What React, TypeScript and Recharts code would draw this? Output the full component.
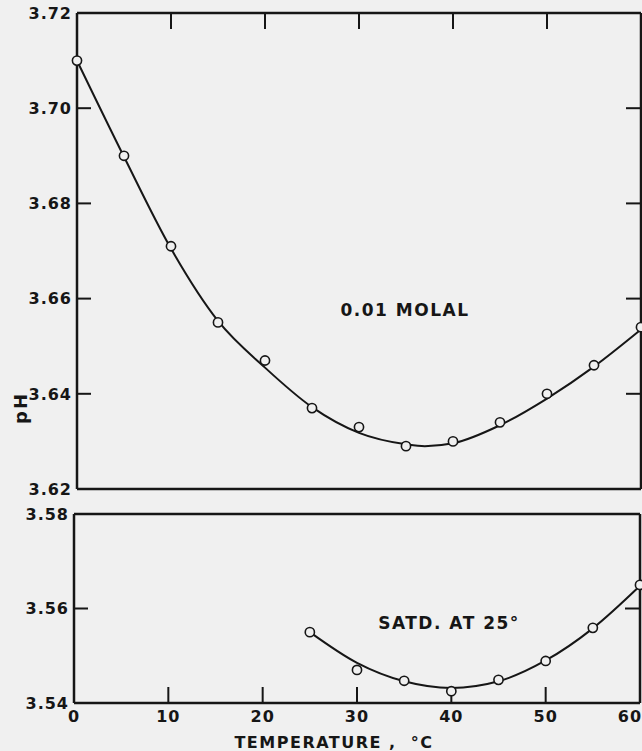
import React from "react";
import {
  ComposedChart,
  Line,
  Scatter,
  XAxis,
  YAxis,
} from "recharts";

// temperatures, deg C
const tempsDilute = [0, 5, 10, 15, 20, 25, 30, 35, 40, 45, 50, 55, 60];
const phDilute = [3.71, 3.69, 3.671, 3.655, 3.647, 3.637, 3.633, 3.629, 3.63, 3.634, 3.64, 3.646, 3.654];
// smooth curve drawn through the points
const curveTempsDilute = [0, 5, 10, 15, 20, 25, 30, 35, 37, 40, 45, 50, 55, 60];
const curvePhDilute = [3.71, 3.6898, 3.6705, 3.6553, 3.6455, 3.6372, 3.6318, 3.6294, 3.629, 3.6296, 3.6334, 3.639, 3.6457, 3.6535];

const tempsSatd = [25, 30, 35, 40, 45, 50, 55, 60];
const phSatd = [3.555, 3.547, 3.5447, 3.5425, 3.5449, 3.5489, 3.5559, 3.565];
const curveTempsSatd = [25, 30, 35, 40, 45, 50, 55, 60];
const curvePhSatd = [3.555, 3.5485, 3.5446, 3.5432, 3.5446, 3.549, 3.5558, 3.5648];

const tempTicks = [0, 10, 20, 30, 40, 50, 60];
const innerTempTicks = [10, 20, 30, 40, 50];
const phTicksTop = [3.62, 3.64, 3.66, 3.68, 3.7, 3.72];
const phTicksBottom = [3.54, 3.56, 3.58];
const innerPhTop = [3.64, 3.66, 3.68, 3.7];
const innerPhBottom = [3.56];

const ink = "#161616";
const paper = "#f0f0f0";
const font = "'DejaVu Sans', sans-serif";

const zip = (xs: number[], ys: number[]) => xs.map((t, i) => ({ t, ph: ys[i] }));

const dilutePts = zip(tempsDilute, phDilute);
const diluteCurve = zip(curveTempsDilute, curvePhDilute);
const satdPts = zip(tempsSatd, phSatd);
const satdCurve = zip(curveTempsSatd, curvePhSatd);

const labelFont = { fontFamily: font, fontWeight: 700, fontSize: 16, fill: ink, letterSpacing: 1 };
const axisStroke = { stroke: ink, strokeWidth: 2.5 };

const Ring = (p: any) => (
  <circle cx={p.cx} cy={p.cy} r={4.6} fill={paper} stroke={ink} strokeWidth={1.6} />
);

// inward tick marks, placed on the frame through the chart's scales
const TickDown = (p: any) => (
  <line x1={p.cx} x2={p.cx} y1={p.cy} y2={p.cy + 16} stroke={ink} strokeWidth={2} />
);
const TickUp = (p: any) => (
  <line x1={p.cx} x2={p.cx} y1={p.cy - 16} y2={p.cy} stroke={ink} strokeWidth={2} />
);
const TickIn = (p: any) => (
  <line x1={p.cx} x2={p.cx + 14} y1={p.cy} y2={p.cy} stroke={ink} strokeWidth={2} />
);
const TickOut = (p: any) => (
  <line x1={p.cx - 15} x2={p.cx} y1={p.cy} y2={p.cy} stroke={ink} strokeWidth={2} />
);

const LeftTick = (p: any) => (
  <text x={p.x - 5} y={p.y} dy="0.36em" textAnchor="end" {...labelFont}>
    {p.payload.value.toFixed(2)}
  </text>
);

// the last label sits a little left of its tick in the original
const BottomTick = (p: any) => (
  <text
    x={p.payload.value === 60 ? p.x - 10 : p.x}
    y={p.y + 8}
    dy="0.71em"
    textAnchor="middle"
    {...labelFont}
  >
    {p.payload.value}
  </text>
);

function Panel(props: {
  width: number;
  height: number;
  margin: { top: number; right: number; bottom: number; left: number };
  pts: { t: number; ph: number }[];
  curve: { t: number; ph: number }[];
  yDomain: [number, number];
  yTicks: number[];
  innerY: number[];
  bottomPanel: boolean;
}) {
  const { pts, curve, bottomPanel, yDomain } = props;
  const edgeY = bottomPanel ? yDomain[0] : yDomain[1];
  const xTickMarks = innerTempTicks.map((t) => ({ t, ph: edgeY }));
  const leftMarks = props.innerY.map((ph) => ({ t: 0, ph }));
  const rightMarks = props.innerY.map((ph) => ({ t: 60, ph }));
  return (
    <ComposedChart width={props.width} height={props.height} margin={props.margin}>
      <XAxis
        xAxisId="b"
        dataKey="t"
        type="number"
        domain={[0, 60]}
        ticks={tempTicks}
        height={1}
        axisLine={axisStroke}
        tickLine={false}
        tickSize={0}
        tickMargin={0}
        tick={bottomPanel ? BottomTick : false}
        interval={0}
      />
      <XAxis
        xAxisId="t"
        orientation="top"
        type="number"
        domain={[0, 60]}
        height={1}
        axisLine={axisStroke}
        tickLine={false}
        tick={false}
      />
      <YAxis
        yAxisId="l"
        type="number"
        domain={yDomain}
        ticks={props.yTicks}
        width={1}
        axisLine={axisStroke}
        tickLine={false}
        tickSize={0}
        tickMargin={0}
        tick={LeftTick}
        interval={0}
      />
      <YAxis
        yAxisId="r"
        orientation="right"
        type="number"
        domain={yDomain}
        width={1}
        axisLine={axisStroke}
        tickLine={false}
        tick={false}
      />
      <Scatter
        xAxisId="b"
        yAxisId="l"
        data={xTickMarks}
        dataKey="ph"
        shape={bottomPanel ? TickUp : TickDown}
        isAnimationActive={false}
      />
      <Scatter
        xAxisId="b"
        yAxisId="l"
        data={leftMarks}
        dataKey="ph"
        shape={TickIn}
        isAnimationActive={false}
      />
      <Scatter
        xAxisId="b"
        yAxisId="l"
        data={rightMarks}
        dataKey="ph"
        shape={TickOut}
        isAnimationActive={false}
      />
      <Line
        xAxisId="b"
        yAxisId="l"
        data={curve}
        dataKey="ph"
        type="monotone"
        stroke={ink}
        strokeWidth={2}
        dot={false}
        isAnimationActive={false}
      />
      <Scatter
        xAxisId="b"
        yAxisId="l"
        data={pts}
        dataKey="ph"
        shape={Ring}
        isAnimationActive={false}
      />
    </ComposedChart>
  );
}

export default function App() {
  return (
    <div
      style={{
        position: "absolute",
        left: 0,
        top: 0,
        width: 642,
        height: 751,
        background: paper,
        overflow: "hidden",
      }}
    >
      <div style={{ position: "absolute", left: 0, top: 0 }}>
        <Panel
          width={642}
          height={500}
          margin={{ top: 12, right: 0, bottom: 10, left: 76 }}
          pts={dilutePts}
          curve={diluteCurve}
          yDomain={[3.62, 3.72]}
          yTicks={phTicksTop}
          innerY={innerPhTop}
          bottomPanel={false}
        />
      </div>
      <div style={{ position: "absolute", left: 0, top: 500 }}>
        <Panel
          width={642}
          height={251}
          margin={{ top: 13, right: 1, bottom: 47, left: 73 }}
          pts={satdPts}
          curve={satdCurve}
          yDomain={[3.54, 3.58]}
          yTicks={phTicksBottom}
          innerY={innerPhBottom}
          bottomPanel={true}
        />
      </div>
      <svg
        width={642}
        height={751}
        style={{ position: "absolute", left: 0, top: 0, pointerEvents: "none" }}
      >
        <g fontFamily={font} fontWeight={700} fill={ink}>
          <text x={405} y={316} textAnchor="middle" fontSize={17} letterSpacing={1.5}>
            0.01 MOLAL
          </text>
          <text x={449} y={629} textAnchor="middle" fontSize={17} letterSpacing={1.5}>
            SATD. AT 25°
          </text>
          <text x={334} y={748} textAnchor="middle" fontSize={16} letterSpacing={1.5} xmlSpace="preserve">
            TEMPERATURE ,  °C
          </text>
          <text
            x={27}
            y={408}
            textAnchor="middle"
            fontSize={18}
            letterSpacing={2}
            transform="rotate(-90 27 408)"
          >
            pH
          </text>
        </g>
      </svg>
    </div>
  );
}
